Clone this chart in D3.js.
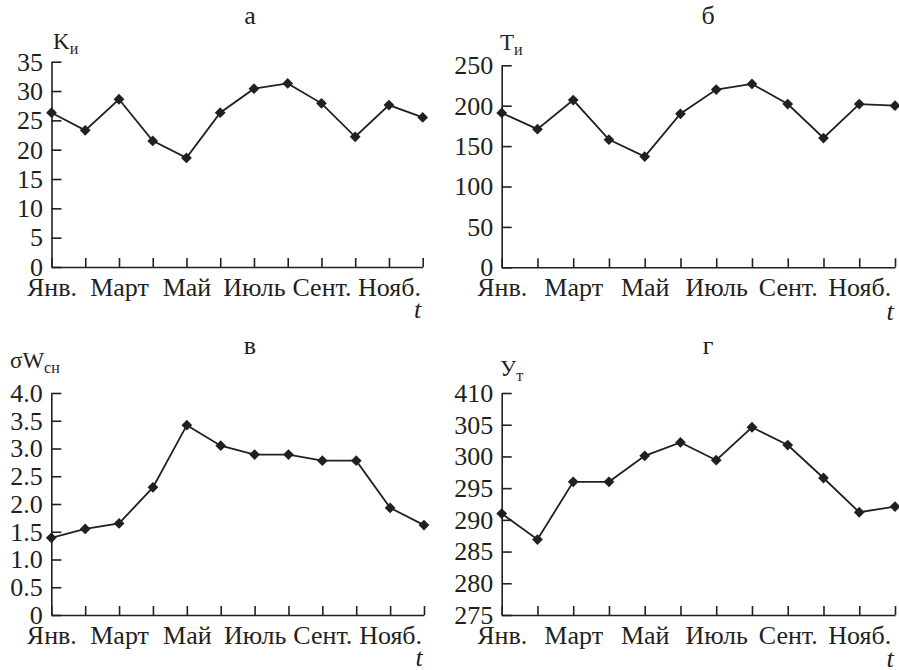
<!DOCTYPE html>
<html>
<head>
<meta charset="utf-8">
<script src="https://cdn.jsdelivr.net/npm/d3@7.9.0/dist/d3.min.js"></script>
</head>
<body style="margin:0">
<svg width="899" height="670"></svg>
<script>
const months = ['Янв.', 'Фев.', 'Март', 'Апр.', 'Май', 'Июнь', 'Июль', 'Авг.', 'Сент.', 'Окт.', 'Нояб.', 'Дек.'];
const shownMonths = ['Янв.', 'Март', 'Май', 'Июль', 'Сент.', 'Нояб.'];

const kValues = [26.3, 23.3, 28.6, 21.5, 18.6, 26.3, 30.4, 31.3, 27.9, 22.2, 27.6, 25.5];
const tValues = [191, 171, 207, 158, 137, 190, 220, 227, 202, 160, 202, 200];
const sigmaValues = [1.39, 1.55, 1.65, 2.30, 3.42, 3.05, 2.89, 2.89, 2.78, 2.78, 1.93, 1.62];
const uValues = [291.0, 286.9, 296.0, 296.0, 300.1, 302.2, 299.4, 304.6, 301.8, 296.6, 291.2, 292.1];

const kTicks = [0, 5, 10, 15, 20, 25, 30, 35];
const tTicks = [0, 50, 100, 150, 200, 250];
const sigmaTicks = [0, 0.5, 1, 1.5, 2, 2.5, 3, 3.5, 4];
const sigmaTickLabels = ['0', '0.5', '1.0', '1.5', '2.0', '2.5', '3.0', '3.5', '4.0'];
const uTicks = [275, 280, 285, 290, 295, 300, 305, 310];
const uTickLabels = ['275', '280', '285', '290', '295', '300', '305', '410'];

const svg = d3.select('svg');
const ink = '#231f20';
const fontSize = 26;
const fam = 'Times New Roman';

const panels = [
  { letter: 'а', main: 'K', sub: 'и', values: kValues, ticks: kTicks, labels: null,
    left: 51.5, right: 422.7, top: 61.7, bottom: 267, titleX: 250, titleY: 24,
    nameX: 53, nameY: 49, tY: 318 },
  { letter: 'б', main: 'T', sub: 'и', values: tValues, ticks: tTicks, labels: null,
    left: 501.7, right: 895, top: 65.3, bottom: 267.3, titleX: 708, titleY: 24,
    nameX: 500, nameY: 50, tY: 320 },
  { letter: 'в', main: 'σW', sub: 'сн', values: sigmaValues, ticks: sigmaTicks, labels: sigmaTickLabels,
    left: 51.3, right: 424, top: 393, bottom: 615, titleX: 250, titleY: 354,
    nameX: 10, nameY: 368, tY: 666 },
  { letter: 'г', main: 'У', sub: 'т', values: uValues, ticks: uTicks, labels: uTickLabels,
    left: 501.7, right: 895, top: 393, bottom: 615, titleX: 708, titleY: 354,
    nameX: 500, nameY: 376, tY: 667 }
];

panels.forEach(p => {
  const g = svg.append('g');

  const x = d3.scalePoint().domain(months).range([p.left, p.right]);
  const y = d3.scaleLinear()
    .domain([p.ticks[0], p.ticks[p.ticks.length - 1]])
    .range([p.bottom, p.top]);

  // axes, ticks pointing inward
  const yAxis = d3.axisLeft(y).tickValues(p.ticks)
    .tickSizeInner(-10).tickSizeOuter(0).tickPadding(8.5)
    .tickFormat((d, i) => p.labels ? p.labels[i] : d);
  const xAxis = d3.axisBottom(x)
    .tickSizeInner(-9).tickSizeOuter(0).tickPadding(10.5)
    .tickFormat(d => shownMonths.includes(d) ? d : '');
  const yg = g.append('g').attr('transform', `translate(${p.left},0)`).call(yAxis);
  const xg = g.append('g').attr('transform', `translate(0,${p.bottom})`).call(xAxis);
  [yg, xg].forEach(a => {
    a.attr('font-family', null).attr('font-size', null);
    a.selectAll('path, line').attr('stroke', ink).attr('stroke-width', 1.6);
    a.selectAll('text').attr('font-size', fontSize);
  });

  // line
  const line = d3.line().x((d, i) => x(months[i])).y(d => y(d));
  g.append('path')
    .datum(p.values)
    .attr('d', line)
    .attr('fill', 'none')
    .attr('stroke', ink)
    .attr('stroke-width', 1.8);

  // diamond markers
  const sym = d3.symbol().type(d3.symbolSquare).size(58);
  g.selectAll('.pt')
    .data(p.values)
    .join('path')
    .attr('class', 'pt')
    .attr('d', sym)
    .attr('fill', ink)
    .attr('transform', (d, i) => `translate(${x(months[i])},${y(d)}) rotate(45)`);

  // panel letter
  g.append('text')
    .attr('x', p.titleX).attr('y', p.titleY)
    .attr('text-anchor', 'middle')
    .attr('font-size', fontSize)
    .text(p.letter);

  // axis name with subscript
  const nm = g.append('text')
    .attr('x', p.nameX).attr('y', p.nameY)
    .attr('font-size', 23);
  nm.append('tspan').text(p.main);
  nm.append('tspan').attr('dy', 5).attr('font-size', 16).text(p.sub);

  // t label
  g.append('text')
    .attr('x', p.right - 5).attr('y', p.tY)
    .attr('text-anchor', 'middle')
    .attr('font-size', fontSize)
    .attr('font-style', 'italic')
    .text('t');
});

svg.selectAll('text')
  .attr('font-family', `"${fam}"`)
  .style('font-family', `"${fam}", "Liberation Serif", serif`)
  .attr('fill', ink);
</script>
</body>
</html>
